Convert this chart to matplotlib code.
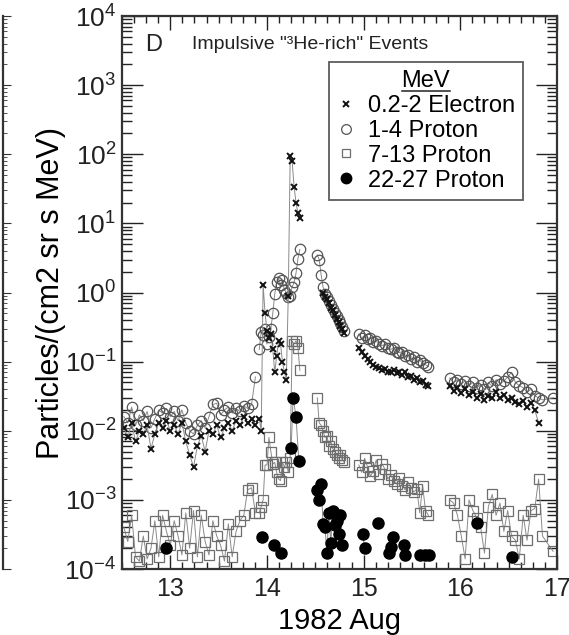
import numpy as np
import matplotlib
matplotlib.use("Agg")
import matplotlib.pyplot as plt
from matplotlib.lines import Line2D
from matplotlib.ticker import LogLocator, MultipleLocator, NullFormatter

plt.rcParams['font.family'] = ['Liberation Sans', 'DejaVu Sans']
plt.rcParams['mathtext.fontset'] = 'custom'
plt.rcParams['mathtext.rm'] = 'Liberation Sans'
plt.rcParams['mathtext.it'] = 'Liberation Sans'
plt.rcParams['mathtext.bf'] = 'Liberation Sans'

nan = np.nan

# ---- data (day of 1982 Aug, particles/(cm2 sr s MeV)) ----
# time segments (data gaps between them)
t_a = [12.52, 12.56, 12.60, 12.64, 12.68, 12.72, 12.76, 12.80, 12.84, 12.88,
       12.92, 12.96, 13.00, 13.04, 13.08, 13.12, 13.16, 13.20, 13.24, 13.28,
       13.32, 13.36, 13.40, 13.44, 13.48, 13.52, 13.56, 13.60, 13.64, 13.68,
       13.72, 13.76, 13.80, 13.84, 13.88]
t_b = [13.92, 13.94, 13.96, 13.98, 14.00, 14.02, 14.04, 14.06, 14.08, 14.10,
       14.12, 14.14, 14.16, 14.18, 14.20, 14.22, 14.24, 14.26, 14.28, 14.30,
       14.32, 14.34]
t_c = [14.52, 14.54, 14.56, 14.58, 14.60, 14.62, 14.64, 14.66, 14.68, 14.70,
       14.72, 14.74, 14.76, 14.78, 14.80]
t_d = [14.95, 14.98, 15.01, 15.04, 15.07, 15.10, 15.13, 15.16, 15.19, 15.22,
       15.25, 15.28, 15.31, 15.34, 15.37, 15.40, 15.43, 15.46, 15.49, 15.52,
       15.55, 15.58, 15.61, 15.64, 15.67]
t_e = [15.89, 15.93, 15.97, 16.01, 16.05, 16.09, 16.13, 16.17, 16.21, 16.25,
       16.29, 16.33, 16.37, 16.41, 16.45, 16.49, 16.53, 16.57, 16.61, 16.65,
       16.69, 16.73, 16.77, 16.81, 16.85, 16.96]

# 0.2-2 MeV electrons
elec_a = [0.011, 0.008, 0.013, 0.007, 0.010, 0.009, 0.012, 0.0055, 0.009, 0.013,
          0.011, 0.014, 0.010, 0.012, 0.009, 0.013, 0.007, 0.0045, 0.003, 0.006,
          0.0085, 0.005, 0.010, 0.009, 0.012, 0.008, 0.011, 0.013, 0.010, 0.014,
          0.012, 0.016, 0.013, 0.015, 0.012]
elec_b = [0.015, 0.010, 1.3, 0.5, 0.28, 0.22, 0.25, 0.15, 0.07, 0.12,
          0.20, 0.18, 0.10, 0.07, 0.055, 0.9, 95, 80, 34, 20, 14, 12]
elec_c = [nan, nan, nan, 1.0, 0.85, 0.8, 0.7, 0.6, 0.55, 0.48,
          0.42, 0.38, 0.33, 0.3, 0.26]
elec_d = [0.16, 0.14, 0.12, 0.11, 0.10, 0.09, 0.085, 0.08, 0.075, 0.078,
          0.072, 0.07, 0.075, 0.068, 0.07, 0.065, 0.072, 0.06, 0.062, 0.055,
          0.058, 0.05, 0.052, 0.046, 0.045]
elec_e = [0.045, 0.038, 0.042, 0.035, 0.04, 0.033, 0.036, 0.03, 0.034, 0.028,
          0.032, 0.03, 0.036, 0.03, 0.033, 0.028, 0.03, 0.026, 0.024, 0.027,
          0.022, 0.025, 0.02, 0.013, nan, nan]

# 1-4 MeV protons
p1_a = [0.016, 0.013, 0.022, 0.012, 0.017, 0.014, 0.019, 0.011, 0.015, 0.020,
        0.018, 0.021, 0.016, 0.019, 0.014, 0.020, 0.013, 0.010, 0.009, 0.012,
        0.014, 0.011, 0.016, 0.024, 0.025, 0.017, 0.020, 0.022, 0.018, 0.021,
        0.019, 0.023, 0.021, 0.024, 0.06]
p1_b = [0.15, 0.27, 0.24, 0.30, 0.18, 0.23, 0.30, 0.50, 0.95, 1.4,
        1.6, 1.3, 1.5, 1.1, 1.0, 0.85, 0.9, 1.2, 1.4, 1.9, 3.1, 4.2]
p1_c = [3.5, 3.0, 1.8, 1.2, 0.95, 0.85, 0.75, 0.65, 0.58, 0.50,
        0.45, 0.40, 0.36, 0.32, 0.28]
p1_d = [0.25, 0.22, 0.24, 0.21, 0.22, 0.19, 0.20, 0.18, 0.17, 0.18,
        0.16, 0.15, 0.16, 0.14, 0.135, 0.14, 0.12, 0.125, 0.11, 0.115,
        0.10, 0.105, 0.095, 0.09, 0.085]
p1_e = [0.058, 0.05, 0.055, 0.048, 0.052, 0.045, 0.05, 0.042, 0.046, 0.04,
        0.05, 0.044, 0.055, 0.048, 0.052, 0.06, 0.07, 0.05, 0.045, 0.042,
        0.036, 0.04, 0.032, 0.03, 0.028, 0.03]

# 7-13 MeV protons
p7_a = [4e-4, 2.5e-4, 6e-4, 1.5e-4, 1.3e-4, 3e-4, 1.4e-4, 2e-4, 5e-4, 1.5e-4,
        6e-4, 3.5e-4, 2.2e-4, 5e-4, 3e-4, 1.6e-4, 6.5e-4, 2e-4, 7e-4, 1.5e-4,
        6e-4, 2.5e-4, 1.6e-4, 5e-4, 3e-4, 2.2e-4, 1.3e-4, 4.5e-4, 1.5e-4, 3.5e-4,
        5e-4, 6e-4, 1.4e-3, 1.5e-3, 6.5e-4]
p7_b = [6.5e-4, 8e-4, 1e-3, 3.2e-3, 3.2e-3, 8e-3, 5e-3, 3.3e-3, 3.5e-3, 2.5e-3,
        2e-3, 1.9e-3, 3.5e-3, 3e-3, 3.5e-3, 2.5e-3, 4e-3, 0.2, 0.18, 0.2,
        0.16, 0.075]
p7_c = [0.03, 0.013, 0.012, 0.010, 0.008, 0.0085, 0.006, 0.007, 0.0055, 0.005,
        0.0045, 0.004, 0.0045, 0.0038, 0.0035]
p7_d = [3.2e-3, 2.5e-3, 4e-3, 3e-3, 2.2e-3, 2.6e-3, 3.8e-3, 2.4e-3, 3.3e-3, 2.8e-3,
        2.0e-3, 2.3e-3, 1.9e-3, 1.7e-3, 2.1e-3, 1.6e-3, 1.4e-3, 1.8e-3, 1.5e-3, 1.3e-3,
        1.45e-3, 6.5e-4, 1.6e-3, 7e-4, 6e-4]
p7_e = [1e-3, 9e-4, 6e-4, 3e-4, 1.4e-4, 1e-3, 7e-4, 5.5e-4, 4e-4, 1.7e-4,
        8e-4, 1.2e-3, 6e-4, 9e-4, 3.5e-4, 7e-4, 3e-4, 2.6e-4, 1.4e-4, 6e-4,
        2.6e-4, 7e-4, 7.5e-4, 2e-3, 3e-4, 1.8e-4]

# 22-27 MeV protons (sparse, connected groups)
p22_t = [[12.96], [13.95], [14.07], [14.15], [14.25, 14.27, 14.30, 14.33],
         [14.52, 14.54, 14.56, 14.58, 14.60, 14.62, 14.64, 14.66, 14.68, 14.70,
          14.72, 14.74, 14.76, 14.78],
         [14.99, 15.01], [15.15], [15.26, 15.28, 15.30], [15.42, 15.43],
         [15.58, 15.63, 15.68], [16.17], [16.53]]
p22_v = [[2e-4], [2.9e-4], [2.2e-4], [1.7e-4], [5.6e-3, 0.03, 0.016, 3.6e-3],
         [1.4e-3, 1.0e-3, 1.7e-3, 4.5e-4, 4.0e-4, 1.7e-4, 6.5e-4, 2.4e-4, 7e-4, 4.3e-4,
          5e-4, 3.2e-4, 6e-4, 2.2e-4],
         [3.2e-4, 2e-4], [4.6e-4], [1.7e-4, 2.1e-4, 2.9e-4], [2.2e-4, 1.6e-4],
         [1.6e-4, 1.6e-4, 1.6e-4], [4.6e-4], [1.5e-4]]

times = [t_a, t_b, t_c, t_d, t_e]
elec = [elec_a, elec_b, elec_c, elec_d, elec_e]
p1 = [p1_a, p1_b, p1_c, p1_d, p1_e]
p7 = [p7_a, p7_b, p7_c, p7_d, p7_e]

labels = ["0.2-2 Electron", "1-4 Proton", "7-13 Proton", "22-27 Proton"]

# ---- figure ----
fig = plt.figure(figsize=(5.69, 6.35), dpi=100)
ax = fig.add_axes([0.2144, 0.1039, 0.7645, 0.8709])

line_kw = dict(color='#8a8a8a', lw=0.7)
for t, v in zip(times, p7):
    ax.plot(t, v, marker='s', ms=6.5, mfc='none', mec='#6e6e6e', mew=0.9, **line_kw)
for t, v in zip(times, p1):
    ax.plot(t, v, marker='o', ms=7.5, mfc='none', mec='#555555', mew=0.9, **line_kw)
for t, v in zip(times, elec):
    ax.plot(t, v, marker='x', ms=4.5, mec='#111111', mew=1.4, **line_kw)
for t, v in zip(p22_t, p22_v):
    ax.plot(t, v, marker='o', ms=8, mfc='black', mec='black', **line_kw)

ax.set_yscale('log')
ax.set_ylim(1e-4, 1e4)
ax.set_xlim(12.5, 17.0)
ax.xaxis.set_major_locator(MultipleLocator(1))
ax.xaxis.set_minor_locator(MultipleLocator(0.125))
ax.yaxis.set_major_locator(LogLocator(base=10, numticks=20))
ax.yaxis.set_minor_locator(LogLocator(base=10, subs=np.arange(2, 10), numticks=20))
ax.yaxis.set_minor_formatter(NullFormatter())

ax.tick_params(which='both', direction='in', top=True, right=True,
               colors='#222222', width=1.0)
ax.tick_params(axis='y', which='major', length=15, labelsize=19, pad=4)
ax.tick_params(axis='y', which='minor', length=7)
ax.tick_params(axis='x', which='major', length=10, labelsize=18, pad=6)
ax.tick_params(axis='x', which='minor', length=5)
for s in ax.spines.values():
    s.set_linewidth(1.6)
    s.set_color('#333333')

ax.set_xlabel('1982 Aug', fontsize=21, labelpad=4)
ax.set_ylabel('Particles/(cm2 sr s MeV)', fontsize=22)
ax.yaxis.set_label_coords(-0.128, 0.5)

ax.text(0.053, 0.948, 'D', transform=ax.transAxes, fontsize=17,
        ha='left', va='center', color='#222222')
ax.text(0.16, 0.948, 'Impulsive "\u00b3He-rich" Events', transform=ax.transAxes,
        fontsize=14, ha='left', va='center', color='#222222')

handles = [
    Line2D([], [], ls='none', marker='x', ms=4.5, mec='#111111', mew=1.4),
    Line2D([], [], ls='none', marker='o', ms=7, mfc='none', mec='#555555', mew=0.9),
    Line2D([], [], ls='none', marker='s', ms=6, mfc='none', mec='#6e6e6e', mew=0.9),
    Line2D([], [], ls='none', marker='o', ms=7.5, mfc='black', mec='black'),
]
leg = ax.legend(handles, labels, title='MeV', loc='upper right',
                bbox_to_anchor=(0.922, 0.917), borderaxespad=0,
                fontsize=17, title_fontsize=17, frameon=True, fancybox=False,
                edgecolor='#333333', handlelength=0.8, handletextpad=0.5,
                labelspacing=0.12, borderpad=0.35)
leg.get_frame().set_linewidth(1.3)

# left edge of the neighbouring panel
ax0 = fig.add_axes([0.006 - 0.5, 0.1039, 0.5, 0.8709])
ax0.set_yscale('log')
ax0.set_ylim(1e-4, 1e4)
for k in ['left', 'top', 'bottom']:
    ax0.spines[k].set_visible(False)
ax0.spines['right'].set_linewidth(1.6)
ax0.spines['right'].set_color('#333333')
ax0.set_xticks([])
ax0.yaxis.tick_right()
ax0.yaxis.set_major_locator(LogLocator(base=10, numticks=20))
ax0.yaxis.set_minor_locator(LogLocator(base=10, subs=np.arange(2, 10), numticks=20))
ax0.tick_params(axis='y', which='both', direction='out', labelright=False,
                labelleft=False, colors='#333333')
ax0.tick_params(axis='y', which='major', length=6)
ax0.tick_params(axis='y', which='minor', length=3)

# underline the legend title
fig.canvas.draw()
bb = leg.get_title().get_window_extent()
inv = fig.transFigure.inverted()
(x0, y0), (x1, y1) = inv.transform([[bb.x0, bb.y0], [bb.x1, bb.y1]])
fig.add_artist(Line2D([x0, x1], [y0 + 0.002, y0 + 0.002], transform=fig.transFigure,
                      color='#222222', lw=1.1))

fig.savefig('out.png', dpi=100)
